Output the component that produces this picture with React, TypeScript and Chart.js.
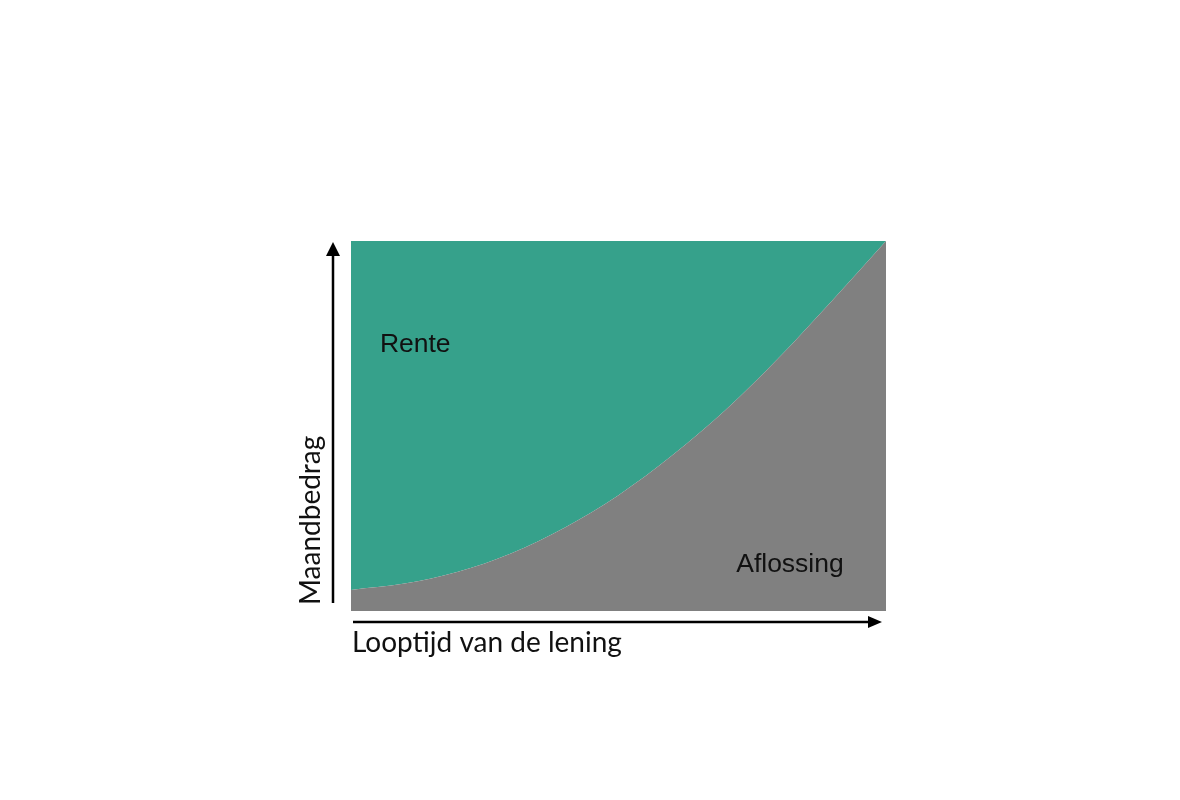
import Chart from "chart.js/auto";
import { useEffect, useRef } from "react";

// Looptijd (% of the term) on x, share of the monthly payment on y
const looptijd = ["0", "10", "20", "30", "40", "50", "60", "70", "80", "90", "100"];
const aflossing = [5.7, 7.4, 10.6, 15.6, 22.6, 31.3, 42, 54.3, 68.5, 84, 100];
const maandbedrag = [100, 100, 100, 100, 100, 100, 100, 100, 100, 100, 100];

const xTitle = "Looptijd van de lening";
const yTitle = "Maandbedrag";
const areaLabels = [
  { text: "Rente", x: 5.4, y: 70 },
  { text: "Aflossing", x: 72, y: 10.5 },
];

const GREEN = "#36a18b";
const GREY = "#808080";

const arrowsPlugin = {
  id: "arrows",
  afterDraw(chart: Chart) {
    const { ctx, chartArea } = chart;
    const { left, right, top, bottom } = chartArea;
    ctx.save();
    ctx.strokeStyle = "#000";
    ctx.fillStyle = "#000";
    ctx.lineWidth = 2.5;

    // vertical arrow
    const ax = left - 18;
    ctx.beginPath();
    ctx.moveTo(ax, bottom - 8);
    ctx.lineTo(ax, top + 12);
    ctx.stroke();
    ctx.beginPath();
    ctx.moveTo(ax, top + 1);
    ctx.lineTo(ax - 7, top + 15);
    ctx.lineTo(ax + 7, top + 15);
    ctx.closePath();
    ctx.fill();

    // horizontal arrow
    const ay = bottom + 11;
    ctx.beginPath();
    ctx.moveTo(left + 2, ay);
    ctx.lineTo(right - 16, ay);
    ctx.stroke();
    ctx.beginPath();
    ctx.moveTo(right - 4, ay);
    ctx.lineTo(right - 18, ay - 6);
    ctx.lineTo(right - 18, ay + 6);
    ctx.closePath();
    ctx.fill();

    // axis titles
    ctx.fillStyle = "#111";
    ctx.textAlign = "left";
    ctx.textBaseline = "alphabetic";
    ctx.font = "28px Lato";
    ctx.fillText(xTitle, left + 1, bottom + 41);
    ctx.save();
    ctx.translate(left - 31, bottom - 6);
    ctx.rotate(-Math.PI / 2);
    ctx.fillText(yTitle, 0, 0);
    ctx.restore();

    // area labels
    const ys = chart.scales.y;
    ctx.font = "26.5px 'Liberation Sans'";
    for (const l of areaLabels) {
      const px = left + (l.x / 100) * (right - left);
      ctx.fillText(l.text, px, ys.getPixelForValue(l.y));
    }
    ctx.restore();
  },
};

export default function App() {
  const chartRef = useRef<HTMLCanvasElement>(null);

  useEffect(() => {
    const chart = new Chart(chartRef.current!, {
      type: "line",
      data: {
        labels: looptijd,
        datasets: [
          {
            label: "Aflossing",
            data: aflossing,
            fill: "origin",
            backgroundColor: GREY,
            borderWidth: 0,
            pointRadius: 0,
            cubicInterpolationMode: "monotone",
          },
          {
            label: "Rente",
            data: maandbedrag,
            fill: "-1",
            backgroundColor: GREEN,
            borderWidth: 0,
            pointRadius: 0,
          },
        ],
      },
      options: {
        animation: false,
        responsive: true,
        maintainAspectRatio: false,
        layout: { padding: { left: 343, top: 233, right: 286, bottom: 181 } },
        plugins: { legend: { display: false }, tooltip: { enabled: false } },
        scales: {
          x: { display: false },
          y: { display: false, min: 0, max: 100 },
        },
      },
      plugins: [arrowsPlugin],
    });

    return () => chart.destroy();
  }, []);

  return (
    <div style={{ width: 1164, height: 784 }}>
      <canvas ref={chartRef}></canvas>
    </div>
  );
}
